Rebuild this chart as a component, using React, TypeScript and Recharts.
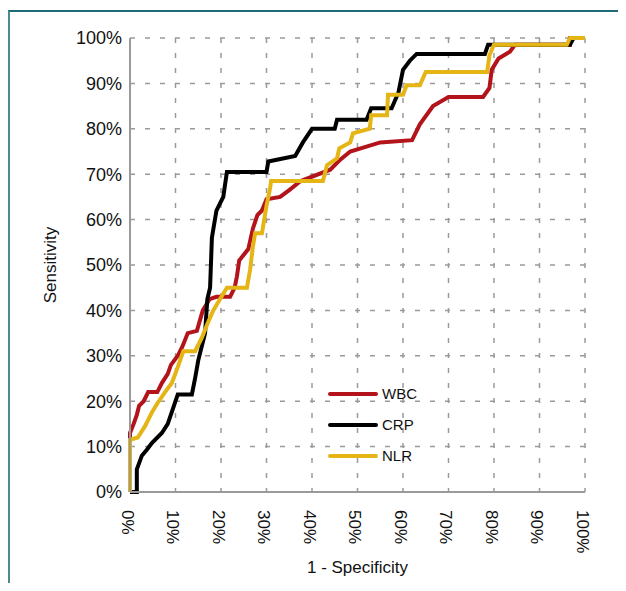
import { LineChart, Line, XAxis, YAxis, CartesianGrid, Legend } from "recharts";

// ROC points as [1 - specificity, sensitivity]
const wbcPoints: [number, number][] = [
  [0, 0], [0, 0.13], [0.008, 0.15], [0.015, 0.17], [0.02, 0.19], [0.03, 0.2],
  [0.04, 0.22], [0.06, 0.22], [0.07, 0.24], [0.083, 0.26], [0.09, 0.28],
  [0.105, 0.3], [0.115, 0.32], [0.127, 0.35], [0.147, 0.355], [0.16, 0.4],
  [0.175, 0.425], [0.19, 0.43], [0.22, 0.43], [0.23, 0.45], [0.235, 0.475],
  [0.24, 0.51], [0.26, 0.535], [0.27, 0.58], [0.28, 0.61], [0.29, 0.62],
  [0.3, 0.645], [0.33, 0.65], [0.35, 0.665], [0.375, 0.685], [0.44, 0.71],
  [0.46, 0.73], [0.484, 0.75], [0.55, 0.77], [0.62, 0.775], [0.637, 0.81],
  [0.666, 0.85], [0.7, 0.87], [0.776, 0.87], [0.79, 0.89], [0.795, 0.93],
  [0.81, 0.955], [0.835, 0.97], [0.846, 0.985], [0.967, 0.985], [0.967, 1], [1, 1],
];

const crpPoints: [number, number][] = [
  [0, 0], [0.015, 0], [0.015, 0.05], [0.026, 0.08], [0.037, 0.093],
  [0.048, 0.108], [0.07, 0.13], [0.083, 0.15], [0.1, 0.2], [0.105, 0.215],
  [0.136, 0.215], [0.143, 0.25], [0.15, 0.29], [0.165, 0.35], [0.17, 0.425],
  [0.176, 0.45], [0.18, 0.56], [0.19, 0.62], [0.205, 0.65], [0.213, 0.705],
  [0.3, 0.705], [0.304, 0.728], [0.363, 0.74], [0.38, 0.77], [0.4, 0.8],
  [0.45, 0.8], [0.455, 0.82], [0.52, 0.82], [0.53, 0.845], [0.575, 0.845],
  [0.59, 0.88], [0.6, 0.93], [0.615, 0.95], [0.63, 0.965], [0.78, 0.965],
  [0.787, 0.985], [0.967, 0.985], [0.975, 1], [1, 1],
];

const nlrPoints: [number, number][] = [
  [0, 0], [0, 0.115], [0.017, 0.12], [0.033, 0.145], [0.048, 0.175],
  [0.06, 0.195], [0.077, 0.22], [0.092, 0.24], [0.105, 0.275], [0.117, 0.31],
  [0.143, 0.31], [0.158, 0.34], [0.17, 0.37], [0.183, 0.4], [0.198, 0.425],
  [0.213, 0.45], [0.257, 0.45], [0.264, 0.49], [0.27, 0.54], [0.275, 0.57],
  [0.29, 0.57], [0.3, 0.63], [0.308, 0.67], [0.31, 0.685], [0.424, 0.685],
  [0.433, 0.72], [0.455, 0.735], [0.46, 0.757], [0.484, 0.77], [0.49, 0.79],
  [0.527, 0.8], [0.53, 0.83], [0.565, 0.83], [0.567, 0.875], [0.6, 0.875],
  [0.608, 0.896], [0.637, 0.896], [0.65, 0.925], [0.785, 0.925], [0.79, 0.962],
  [0.8, 0.985], [0.96, 0.985], [0.967, 1], [1, 1],
];

const seriesOrder = ["WBC", "CRP", "NLR"];
const ticks = [0, 0.1, 0.2, 0.3, 0.4, 0.5, 0.6, 0.7, 0.8, 0.9, 1];

const toRows = (pts: [number, number][]) => pts.map(([x, y]) => ({ x, y }));

const font = "'Liberation Sans', Arial, sans-serif";
const pct = (v: number) => `${Math.round(v * 100)}%`;

const XTick = ({ x, y, payload }: any) => (
  <g transform={`translate(${x},${y})`}>
    <text transform="rotate(90)" x={10} y={0} dy="0.5em" textAnchor="start" fontSize={17} fill="#111" fontFamily={font}>
      {pct(payload.value)}
    </text>
  </g>
);

const renderLegend = (props: any) => {
  const items = [...(props.payload || [])].sort(
    (a: any, b: any) => seriesOrder.indexOf(a.value) - seriesOrder.indexOf(b.value)
  );
  return (
    <div style={{ fontFamily: font, fontSize: 15, color: "#111" }}>
      {items.map((item: any) => (
        <div key={item.value} style={{ display: "flex", alignItems: "center", height: 31 }}>
          <span style={{ display: "inline-block", width: 50, height: 4, background: item.color, borderRadius: 2, marginRight: 4 }} />
          {item.value}
        </div>
      ))}
    </div>
  );
};

export default function App() {
  return (
    <div style={{ position: "relative", width: 626, height: 591, margin: -8, background: "#fff", overflow: "hidden" }}>
      <div
        style={{
          position: "absolute",
          left: 8,
          top: 10,
          width: 640,
          height: 600,
          borderTop: "2px solid #1d6b75",
          borderLeft: "2px solid #4f8990",
        }}
      />
      <div style={{ position: "absolute", left: 0, top: 0 }}>
        <LineChart width={626} height={591} margin={{ top: 38, right: 41, left: 0, bottom: 0 }}>
          <CartesianGrid stroke="#9a9a9a" strokeWidth={1.5} strokeDasharray="5 10" />
          <XAxis
            dataKey="x"
            type="number"
            domain={[0, 1]}
            ticks={ticks}
            interval={0}
            height={99}
            tick={<XTick />}
            tickLine={false}
            axisLine={{ stroke: "#9a9a9a", strokeWidth: 2 }}
            allowDuplicatedCategory={false}
            label={{ value: "1 - Specificity", position: "insideBottom", offset: 18, fontSize: 17, fill: "#111", fontFamily: font }}
          />
          <YAxis
            type="number"
            domain={[0, 1]}
            ticks={ticks}
            interval={0}
            width={130}
            tickFormatter={pct}
            tick={{ fontSize: 18, fill: "#111", fontFamily: font }}
            tickLine={false}
            axisLine={{ stroke: "#9a9a9a", strokeWidth: 2 }}
            label={{
              value: "Sensitivity",
              angle: -90,
              position: "insideLeft",
              offset: 50,
              fontSize: 17,
              fill: "#111",
              fontFamily: font,
              style: { textAnchor: "middle" },
            }}
          />
          <Legend
            layout="horizontal"
            verticalAlign="middle"
            align="center"
            content={renderLegend}
            wrapperStyle={{ left: 328, top: 378, width: 120, bottom: "auto", right: "auto" }}
          />
          <Line data={toRows(wbcPoints)} dataKey="y" name="WBC" type="linear" stroke="#b3141c" strokeWidth={4} dot={false} isAnimationActive={false} />
          <Line data={toRows(crpPoints)} dataKey="y" name="CRP" type="linear" stroke="#000000" strokeWidth={4} dot={false} isAnimationActive={false} />
          <Line data={toRows(nlrPoints)} dataKey="y" name="NLR" type="linear" stroke="#e4b514" strokeWidth={4} dot={false} isAnimationActive={false} />
        </LineChart>
      </div>
    </div>
  );
}
